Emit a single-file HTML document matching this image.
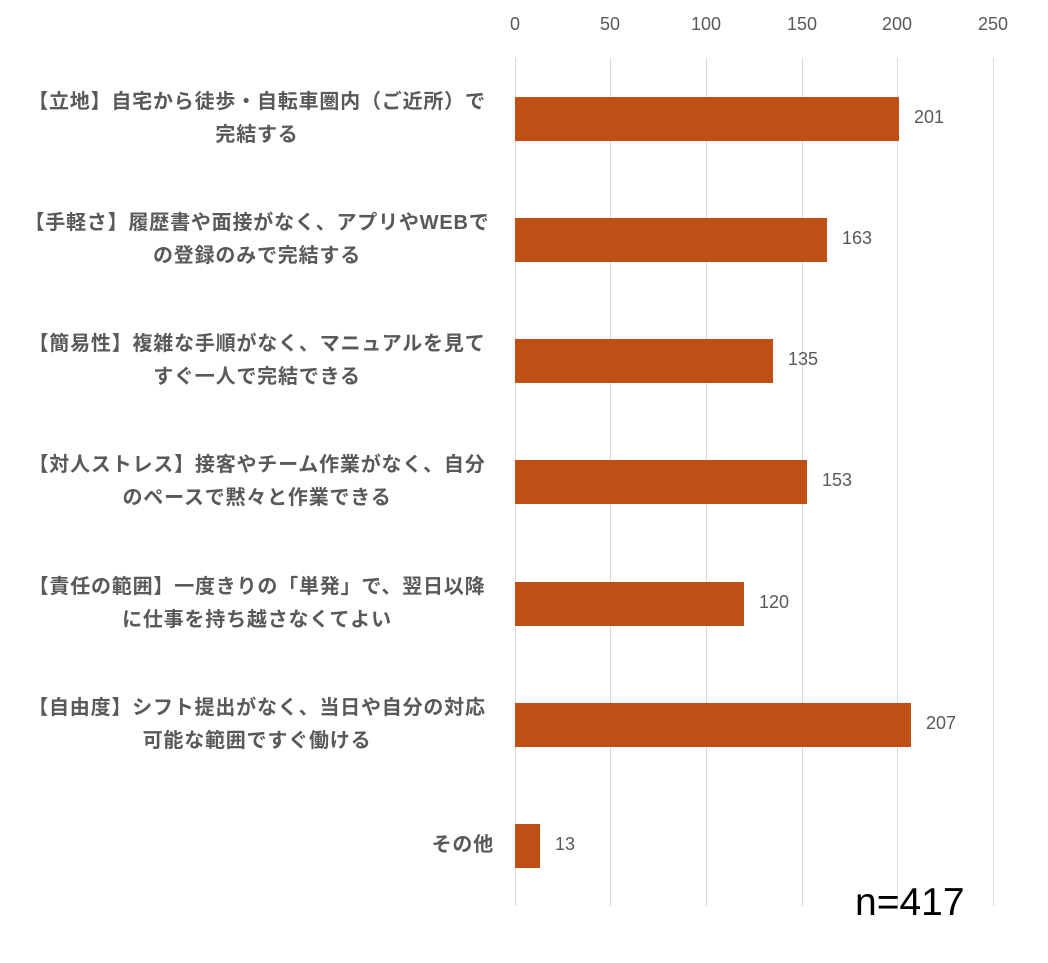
<!DOCTYPE html>
<html><head><meta charset="utf-8">
<style>
body{margin:0;background:#fff;width:1048px;height:963px;position:relative;overflow:hidden;font-family:"Liberation Sans","Noto Sans CJK JP",sans-serif;}
.g{position:absolute;top:58px;height:848px;width:1px;background:#d9d9d9;}
.t{position:absolute;top:14px;font-size:18px;color:#595959;width:60px;text-align:center;}
.bar{position:absolute;left:515px;height:44px;background:#c04f15;}
.v{position:absolute;font-size:18px;color:#595959;}
.l{position:absolute;left:10px;width:494px;text-align:center;font-size:20px;letter-spacing:0.8px;font-weight:bold;color:#595959;line-height:33px;}
</style></head><body>
<div class="g" style="left:515px"></div>
<div class="g" style="left:610px"></div>
<div class="g" style="left:706px"></div>
<div class="g" style="left:802px"></div>
<div class="g" style="left:897px"></div>
<div class="g" style="left:993px"></div>
<div class="t" style="left:485px">0</div>
<div class="t" style="left:580px">50</div>
<div class="t" style="left:676px">100</div>
<div class="t" style="left:772px">150</div>
<div class="t" style="left:867px">200</div>
<div class="t" style="left:963px">250</div>

<div class="l" style="top:86px">【立地】自宅から徒歩・自転車圏内（ご近所）で<br>完結する</div>
<div class="bar" style="top:97px;width:384px"></div><div class="v" style="left:914px;top:107px">201</div>

<div class="l" style="top:207px">【手軽さ】履歴書や面接がなく、アプリやWEBで<br>の登録のみで完結する</div>
<div class="bar" style="top:218px;width:312px"></div><div class="v" style="left:842px;top:228px">163</div>

<div class="l" style="top:328px">【簡易性】複雑な手順がなく、マニュアルを見て<br>すぐ一人で完結できる</div>
<div class="bar" style="top:339px;width:258px"></div><div class="v" style="left:788px;top:349px">135</div>

<div class="l" style="top:449px">【対人ストレス】接客やチーム作業がなく、自分<br>のペースで黙々と作業できる</div>
<div class="bar" style="top:460px;width:292px"></div><div class="v" style="left:822px;top:470px">153</div>

<div class="l" style="top:571px">【責任の範囲】一度きりの「単発」で、翌日以降<br>に仕事を持ち越さなくてよい</div>
<div class="bar" style="top:582px;width:229px"></div><div class="v" style="left:759px;top:592px">120</div>

<div class="l" style="top:692px">【自由度】シフト提出がなく、当日や自分の対応<br>可能な範囲ですぐ働ける</div>
<div class="bar" style="top:703px;width:396px"></div><div class="v" style="left:926px;top:713px">207</div>

<div class="l" style="top:829px;left:20px;width:474px;text-align:right">その他</div>
<div class="bar" style="top:824px;width:25px"></div><div class="v" style="left:555px;top:834px">13</div>

<div style="position:absolute;left:855px;top:881px;font-size:39px;color:#000">n=417</div>
</body></html>
